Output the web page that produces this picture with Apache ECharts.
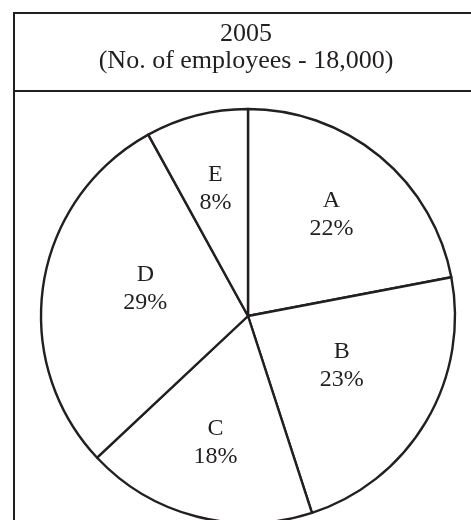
<!DOCTYPE html>
<html>
<head>
<meta charset="utf-8">
<title>Employees 2005</title>
<script src="https://cdn.jsdelivr.net/npm/echarts@6/dist/echarts.min.js"></script>
</head>
<body style="margin:0;background:#fff">
<div id="main" style="width:471px;height:520px;"></div>
<script type="text/javascript">
var year = '2005';
var subtitle = '(No. of employees - 18,000)';
var depts = ['A', 'B', 'C', 'D', 'E'];
var shares = [22, 23, 18, 29, 8];
// labels of B and D sit nearer the centre in the original
var nearLabels = ['B', 'D'];
// small label nudges: extra blank line height below (lifts text), left padding
var labelLift = { B: 12, D: 20 };
var labelShiftX = { D: 10 };

var ink = '#231f20';
var serif = 'Liberation Serif';
var center = [248, 316];

function pieData(showFor) {
  return depts.map(function (d, i) {
    var lift = labelLift[d] || 0;
    return {
      name: d,
      value: shares[i],
      label: {
        show: showFor ? showFor(d) : false,
        formatter: lift ? '{b}\n{c}%\n{gap|}' : '{b}\n{c}%',
        rich: { gap: { lineHeight: lift, fontSize: 1 } },
        padding: [0, 0, 0, labelShiftX[d] || 0]
      }
    };
  });
}

function labelRing(radius, showFor) {
  return {
    type: 'pie',
    silent: true,
    center: center,
    radius: radius,
    startAngle: 90,
    animation: false,
    itemStyle: { color: 'rgba(0,0,0,0)', borderWidth: 0 },
    label: {
      position: 'inside',
      color: ink,
      fontFamily: serif,
      fontSize: 24,
      lineHeight: 28
    },
    labelLine: { show: false },
    data: pieData(showFor)
  };
}

var chartDom = document.getElementById('main');
var myChart = echarts.init(chartDom);
var option = {
  backgroundColor: '#fff',
  graphic: [
    { type: 'rect', shape: { x: 14, y: 13, width: 490, height: 540 },
      style: { fill: 'none', stroke: ink, lineWidth: 2 } },
    { type: 'line', shape: { x1: 14, y1: 91, x2: 471, y2: 91 },
      style: { stroke: ink, lineWidth: 2 } },
    { type: 'text', x: 246, y: 21,
      style: { text: year, textAlign: 'center', fill: ink, font: '26px "Liberation Serif"' } },
    { type: 'text', x: 246, y: 48,
      style: { text: subtitle, textAlign: 'center', fill: ink, font: '26px "Liberation Serif"' } }
  ],
  series: [
    {
      type: 'pie',
      silent: true,
      center: center,
      radius: 207,
      startAngle: 90,
      animation: false,
      itemStyle: { color: '#fff', borderColor: ink, borderWidth: 2.4 },
      label: { show: false },
      labelLine: { show: false },
      data: pieData()
    },
    labelRing(256, function (d) { return nearLabels.indexOf(d) < 0; }),
    labelRing(212, function (d) { return nearLabels.indexOf(d) >= 0; })
  ]
};

option && myChart.setOption(option);
</script>
</body>
</html>
